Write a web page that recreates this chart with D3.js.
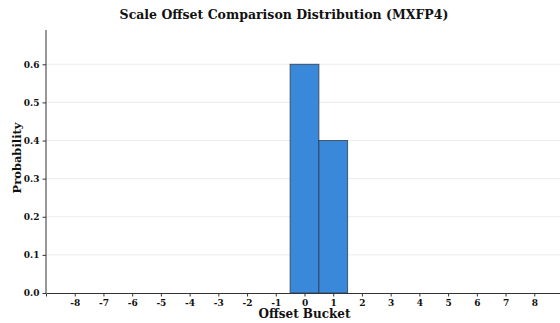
<!DOCTYPE html>
<html>
<head>
<meta charset="utf-8">
<script src="https://cdn.jsdelivr.net/npm/d3@7"></script>
<style>
  body { margin: 0; background: #fff; }
  svg { display: block; font-family: "DejaVu Serif", serif; font-weight: bold; }
</style>
</head>
<body>
<div id="chart"></div>
<script>
// offset buckets and their probabilities
const buckets = [-8, -7, -6, -5, -4, -3, -2, -1, 0, 1, 2, 3, 4, 5, 6, 7, 8];
const probs = [0, 0, 0, 0, 0, 0, 0, 0, 0.6, 0.4, 0, 0, 0, 0, 0, 0, 0];
const yTicks = [0, 0.1, 0.2, 0.3, 0.4, 0.5, 0.6];

const width = 560, height = 323;
const margin = { top: 30, right: -3, bottom: 30, left: 46 };

const svg = d3.select("#chart").append("svg")
  .attr("width", width)
  .attr("height", height);

const x = d3.scaleLinear().domain([-9, 9]).range([margin.left, width - margin.right]);
const y = d3.scaleLinear().domain([0, 0.69]).range([height - margin.bottom, margin.top]);

// grid lines
svg.append("g")
  .selectAll("line")
  .data(yTicks.slice(1))
  .join("line")
  .attr("x1", margin.left)
  .attr("x2", width - margin.right)
  .attr("y1", d => y(d))
  .attr("y2", d => y(d))
  .attr("stroke", "#e6e6e6")
  .attr("stroke-width", 0.8);

// bars (each bucket one unit wide, centred on its value)
svg.append("g")
  .selectAll("rect")
  .data(buckets.map((b, i) => ({ b, p: probs[i] })).filter(d => d.p > 0))
  .join("rect")
  .attr("x", d => x(d.b - 0.5))
  .attr("width", d => x(d.b + 0.5) - x(d.b - 0.5))
  .attr("y", d => y(d.p))
  .attr("height", d => y(0) - y(d.p))
  .attr("fill", "#3a88da")
  .attr("stroke", "#2b3a4a")
  .attr("stroke-opacity", 0.8)
  .attr("stroke-width", 1);

// x axis -- plain hyphen for negatives like the original
const xAxis = svg.append("g")
  .attr("transform", `translate(0,${y(0)})`)
  .call(d3.axisBottom(x).tickValues(buckets).tickFormat(d => String(d)).tickSize(3.5).tickPadding(3));

// y axis
const yAxis = svg.append("g")
  .attr("transform", `translate(${margin.left},0)`)
  .call(d3.axisLeft(y).tickValues(yTicks).tickFormat(d3.format(".1f")).tickSize(3.5).tickPadding(3));

[xAxis, yAxis].forEach(g => {
  g.select(".domain").attr("stroke", "#333").attr("stroke-width", 1);
  g.selectAll(".tick line").attr("stroke", "#333");
  g.selectAll(".tick text")
    .attr("fill", "#111")
    .style("font-family", "DejaVu Serif")
    .style("font-weight", "bold")
    .style("font-size", "9px");
});
yAxis.select(".domain").attr("d", `M0,${y(0)}V${margin.top}`);

// title
svg.append("text")
  .attr("x", 284)
  .attr("y", 18.5)
  .attr("text-anchor", "middle")
  .style("font-size", "12.5px")
  .attr("fill", "#111")
  .text("Scale Offset Comparison Distribution (MXFP4)");

// axis labels
svg.append("text")
  .attr("x", x(0))
  .attr("y", 318)
  .attr("text-anchor", "middle")
  .style("font-size", "12px")
  .attr("fill", "#111")
  .text("Offset Bucket");

svg.append("text")
  .attr("transform", `translate(21,158) rotate(-90)`)
  .attr("text-anchor", "middle")
  .style("font-size", "11.5px")
  .attr("fill", "#111")
  .text("Probability");
</script>
</body>
</html>
